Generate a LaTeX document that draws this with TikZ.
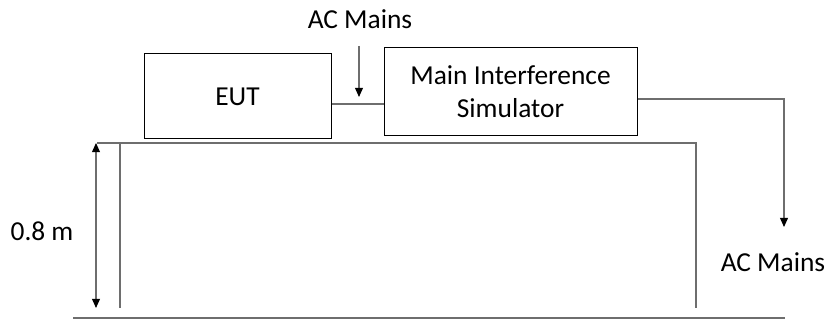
\documentclass[tikz,border=0pt]{standalone}
\usepackage{fontspec}
\setmainfont{Carlito}
\usepackage{tikz}
\usetikzlibrary{positioning,calc,arrows.meta}

\begin{document}
\begin{tikzpicture}[x=0.5pt,y=0.5pt]
	\definecolor{lngray}{RGB}{110,110,110}
	\tikzset{
		unit/.style={
			rectangle, draw=black, line width=0.5pt,
			inner sep=0pt, align=center,
			font=\fontsize{13.7}{16.5}\selectfont
		},
		lbl/.style={font=\fontsize{13.7}{16.5}\selectfont, inner sep=0pt},
		wire/.style={draw=lngray, line width=0.55pt},
		feed/.style={
			-{Triangle[length=4.6pt,width=4pt,color=black]},
			draw=lngray, line width=0.55pt
		},
		dimn/.style={
			{Triangle[length=4.6pt,width=4pt,color=black]}-{Triangle[length=4.6pt,width=4pt,color=black]},
			draw=lngray, line width=0.55pt
		}
	}
	\useasboundingbox (0,0) rectangle (830,320);
	
	% ======= thiết bị trên bàn =======
	\node[unit, minimum width=93.5pt, minimum height=42.5pt] (eut) at (237.5,223.5) {EUT};
	\node[unit, minimum width=126.5pt, minimum height=44pt] (mis) at (510.5,228) {Main Interference\\Simulator};
	
	\coordinate (jn) at (359,216);
	\draw[wire] (eut.east |- jn) -- (mis.west |- jn);
	
	% ======= nguồn AC phía trên =======
	\node[lbl] (acin) at (360,301) {AC Mains};
	\coordinate (acin0) at (359,274);
	\coordinate (acin1) at (359,223);
	\draw[feed] (acin0) -- (acin1);
	
	% ======= nguồn AC bên phải =======
	\coordinate (bend) at (784,221);
	\coordinate (acout0) at (784,93);
	\node[lbl] (acout) at (773,58) {AC Mains};
	\draw[feed] (mis.east |- bend) -- (bend) -- (acout0);
	
	% ======= bàn và sàn =======
	\coordinate (tl) at (97,177);
	\coordinate (tr) at (696,177);
	\coordinate (ll) at (120,12);
	\coordinate (rl) at (696,12);
	\draw[wire] (tl) -- (tr) -- (rl);
	\draw[wire] (ll |- tl) -- (ll);
	\draw[wire] (73,2) -- (785,2);
	
	% ======= chiều cao 0.8 m =======
	\coordinate (d0) at (96,177);
	\coordinate (d1) at (96,12);
	\draw[dimn] (d0) -- (d1);
	\node[lbl] (ht) at (42,89) {0.8 m};
	
\end{tikzpicture}
\end{document}
